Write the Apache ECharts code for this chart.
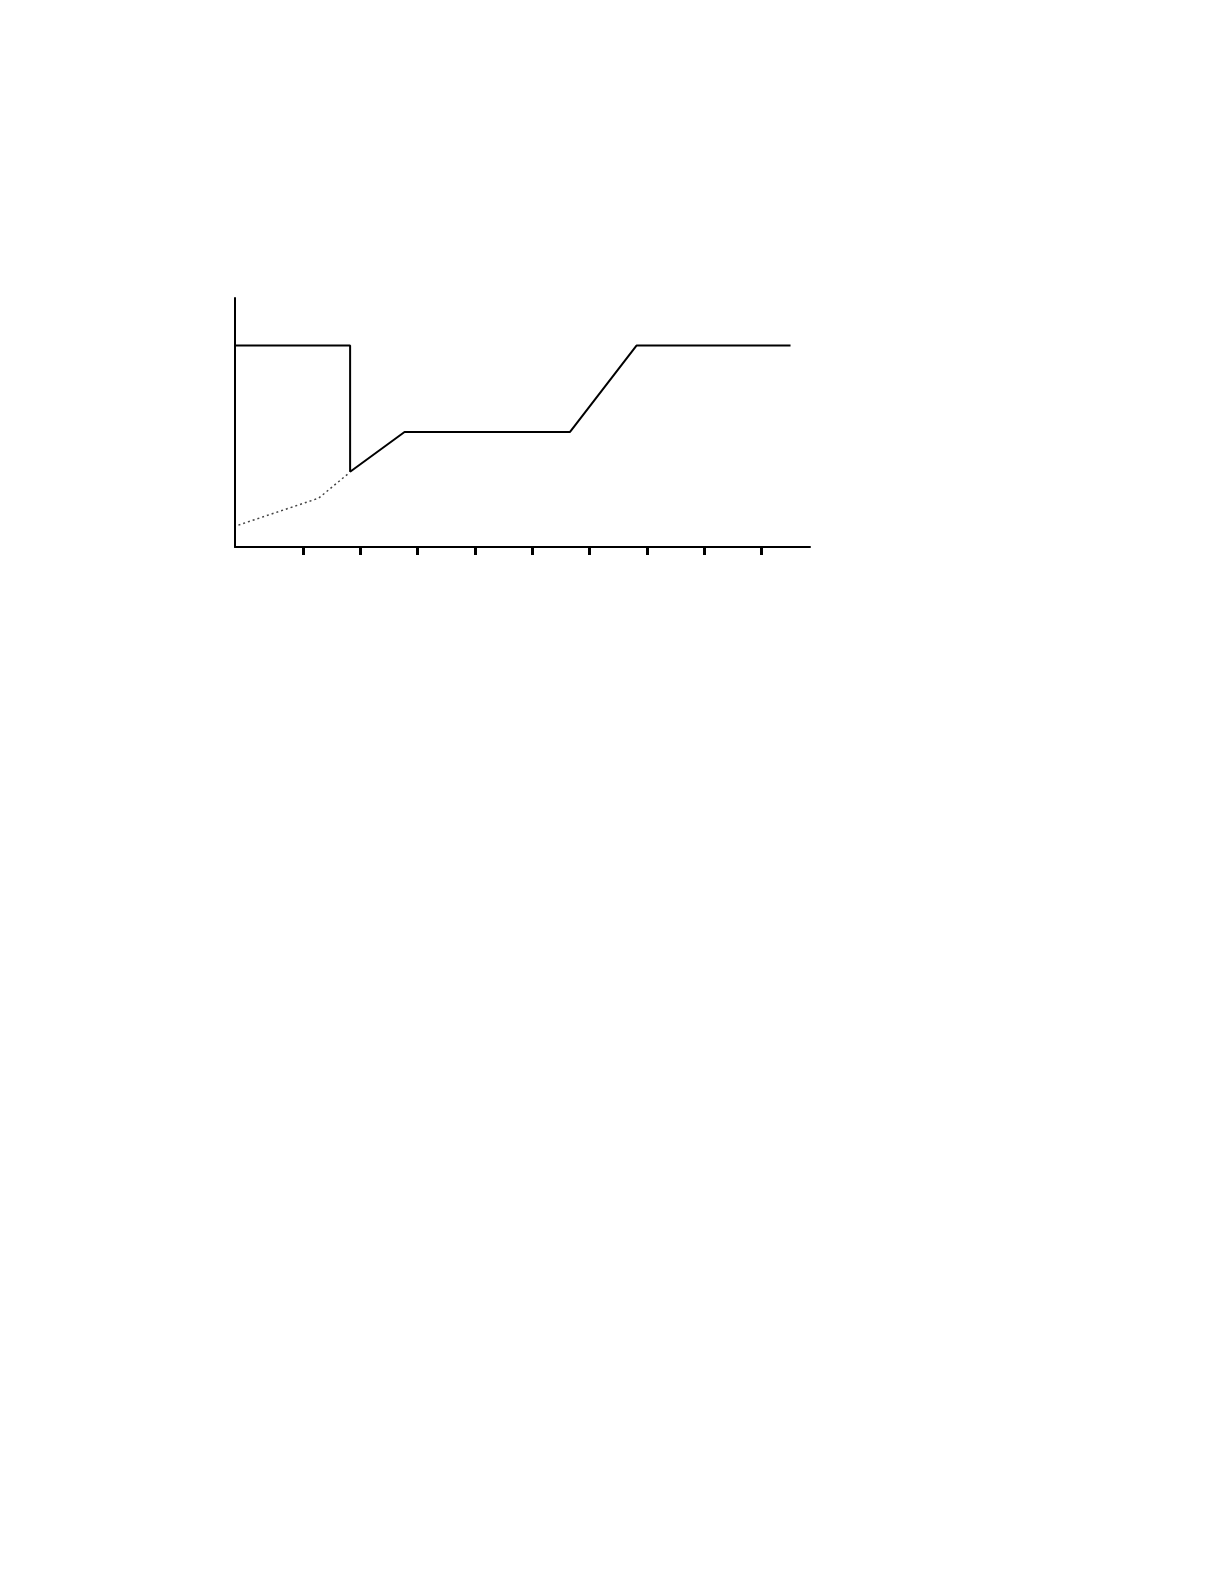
<!DOCTYPE html>
<html>
<head>
<meta charset="utf-8">
<script src="https://cdn.jsdelivr.net/npm/echarts@6/dist/echarts.min.js"></script>
<style>
html,body{margin:0;padding:0;background:#fff;}
#main{width:1224px;height:1584px;}
</style>
</head>
<body>
<div id="main"></div>
<script>
// x in tick units (ticks sit at 1..9), y in 0..100 of the axis height
var tickValues = [1, 2, 3, 4, 5, 6, 7, 8, 9];
var solidLine = [[-0.19, 80.9], [1.82, 80.9], [1.82, 30.2], [2.77, 46.2], [5.66, 46.2], [6.82, 80.9], [9.51, 80.9]];
var dottedLine = [[-0.13, 8.8], [1.27, 19.6], [1.79, 29.5]];

var myChart = echarts.init(document.getElementById('main'));
var option = {
	backgroundColor: '#fff',
	animation: false,
	grid: {
		left: 235,
		top: 298,
		right: 414,
		bottom: 1037
	},
	xAxis: {
		type: 'value',
		min: -0.19,
		max: 9.85,
		splitLine: {show: false},
		axisLabel: {show: false},
		axisLine: {onZero: false, lineStyle: {color: '#000', width: 2}},
		axisTick: {
			show: true,
			inside: false,
			length: 8,
			customValues: tickValues,
			lineStyle: {color: '#000', width: 3}
		}
	},
	yAxis: {
		type: 'value',
		min: 0,
		max: 100,
		splitLine: {show: false},
		axisLabel: {show: false},
		axisTick: {show: false},
		axisLine: {show: true, onZero: false, lineStyle: {color: '#000', width: 2}}
	},
	series: [
		{
			type: 'line',
			data: solidLine,
			symbol: 'none',
			lineStyle: {color: '#000', width: 2}
		},
		{
			type: 'line',
			data: dottedLine,
			symbol: 'none',
			lineStyle: {color: '#444', width: 1.5, type: [2, 3]}
		}
	]
};
myChart.setOption(option);
</script>
</body>
</html>
